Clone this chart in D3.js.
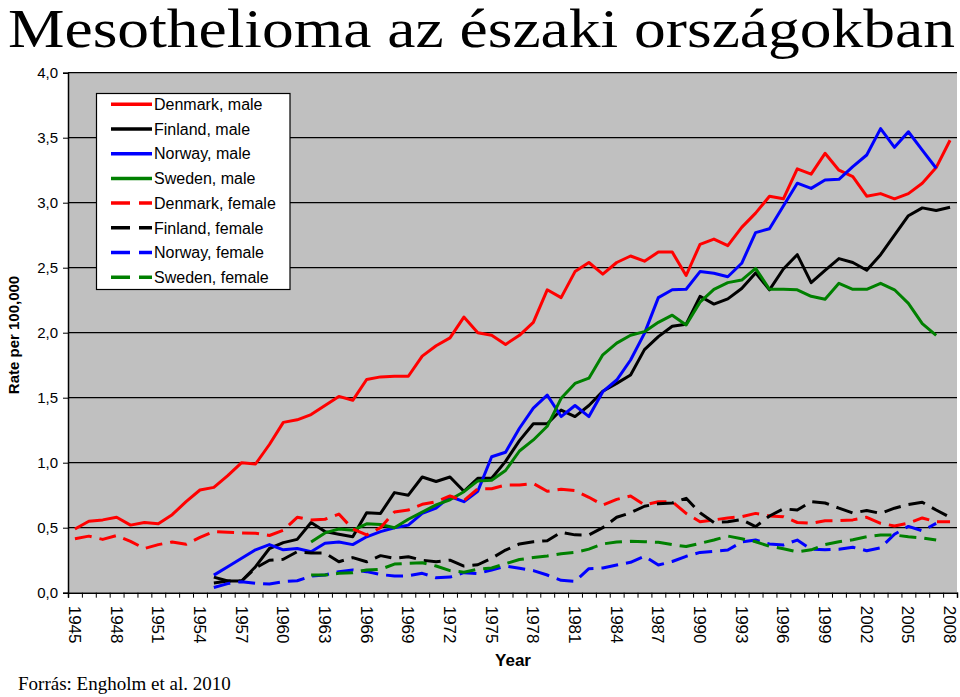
<!DOCTYPE html>
<html>
<head>
<meta charset="utf-8">
<script src="https://cdn.jsdelivr.net/npm/d3@7"></script>
<style>
  html, body { margin: 0; padding: 0; background: #fff; }
  svg { display: block; }
</style>
</head>
<body>
<svg id="chart" width="960" height="697"></svg>
<script>
// ---------- DATA ----------
const years = d3.range(1945, 2009);
const yTicks = [0, 0.5, 1, 1.5, 2, 2.5, 3, 3.5, 4];
const xTickLabels = d3.range(1945, 2009, 3);

const denmarkMale = [0.49,0.55,0.56,0.58,0.52,0.54,0.53,0.60,0.70,0.79,0.81,0.90,1.00,0.99,1.14,1.31,1.33,1.37,1.44,1.51,1.48,1.64,1.66,1.665,1.665,1.82,1.90,1.96,2.12,2.00,1.98,1.91,1.98,2.08,2.33,2.27,2.47,2.54,2.45,2.54,2.59,2.55,2.62,2.62,2.44,2.68,2.72,2.67,2.81,2.92,3.05,3.03,3.26,3.22,3.38,3.25,3.20,3.05,3.07,3.03,3.07,3.15,3.27,3.48];
const finlandMale = [null,null,null,null,null,null,null,null,null,null,0.12,0.09,0.09,0.20,0.34,0.385,0.41,0.54,0.47,0.45,0.43,0.615,0.61,0.77,0.75,0.89,0.855,0.89,0.78,0.88,0.88,1.01,1.17,1.30,1.30,1.405,1.355,1.44,1.55,1.61,1.675,1.87,1.97,2.05,2.065,2.28,2.22,2.26,2.34,2.46,2.33,2.49,2.60,2.385,2.48,2.57,2.54,2.48,2.60,2.75,2.90,2.96,2.94,2.965];
const norwayMale = [null,null,null,null,null,null,null,null,null,null,0.135,0.20,0.265,0.33,0.37,0.33,0.34,0.315,0.38,0.39,0.37,0.43,0.47,0.50,0.52,0.61,0.65,0.74,0.70,0.78,1.046,1.08,1.265,1.42,1.52,1.355,1.44,1.355,1.546,1.636,1.79,1.995,2.27,2.33,2.334,2.47,2.457,2.43,2.534,2.77,2.80,2.975,3.15,3.11,3.175,3.18,3.277,3.367,3.57,3.426,3.546,3.405,3.265,null];
const swedenMale = [null,null,null,null,null,null,null,null,null,null,null,null,null,null,null,null,null,0.39,0.46,0.49,0.48,0.53,0.525,0.50,0.565,0.62,0.675,0.715,0.777,0.86,0.865,0.94,1.09,1.175,1.28,1.495,1.61,1.65,1.83,1.92,1.98,2.008,2.08,2.135,2.06,2.235,2.334,2.385,2.405,2.495,2.334,2.334,2.33,2.28,2.257,2.38,2.334,2.334,2.38,2.33,2.226,2.07,1.98,null];
const denmarkFemale = [0.415,0.435,0.41,0.44,0.395,0.34,0.37,0.39,0.372,0.425,0.47,0.465,0.46,0.457,0.44,0.48,0.58,0.56,0.565,0.605,0.49,0.444,0.50,0.62,0.636,0.68,0.70,0.744,0.708,0.80,0.80,0.828,0.828,0.84,0.78,0.795,0.785,0.734,0.675,0.718,0.744,0.675,0.70,0.70,0.61,0.546,0.56,0.575,0.585,0.61,0.59,0.585,0.54,0.534,0.554,0.554,0.56,0.58,0.534,0.513,0.535,0.575,0.546,0.546];
const finlandFemale = [null,null,null,null,null,null,null,null,null,null,0.075,0.09,0.09,0.19,0.25,0.257,0.315,0.305,0.305,0.238,0.27,0.238,0.285,0.265,0.277,0.25,0.238,0.25,0.205,0.215,0.265,0.328,0.375,0.392,0.40,0.465,0.445,0.444,0.50,0.58,0.615,0.665,0.685,0.69,0.726,0.615,0.54,0.546,0.563,0.508,0.59,0.645,0.636,0.70,0.69,0.65,0.613,0.633,0.61,0.65,0.678,0.696,0.636,0.58];
const norwayFemale = [null,null,null,null,null,null,null,null,null,null,0.04,0.07,0.085,0.072,0.067,0.085,0.092,0.128,0.136,0.162,0.175,0.162,0.14,0.128,0.13,0.149,0.115,0.12,0.154,0.147,0.175,0.205,0.188,0.17,0.136,0.095,0.088,0.185,0.19,0.213,0.234,0.28,0.213,0.24,0.28,0.31,0.318,0.328,0.39,0.405,0.375,0.367,0.405,0.334,0.33,0.334,0.35,0.323,0.345,0.45,0.51,0.476,0.533,null];
const swedenFemale = [null,null,null,null,null,null,null,null,null,null,null,null,null,null,null,null,null,0.136,0.136,0.149,0.154,0.175,0.18,0.22,0.226,0.231,0.205,0.17,0.158,0.18,0.19,0.223,0.255,0.27,0.282,0.30,0.31,0.335,0.375,0.39,0.395,0.392,0.388,0.37,0.355,0.38,0.405,0.436,0.415,0.392,0.357,0.338,0.315,0.33,0.37,0.392,0.407,0.43,0.444,0.444,0.43,0.422,0.405,null];

const seriesNames = ["Denmark, male","Finland, male","Norway, male","Sweden, male","Denmark, female","Finland, female","Norway, female","Sweden, female"];
const seriesValues = [denmarkMale, finlandMale, norwayMale, swedenMale, denmarkFemale, finlandFemale, norwayFemale, swedenFemale];
const seriesColors = ["#ff0000","#000000","#0000ff","#008000","#ff0000","#000000","#0000ff","#008000"];
const seriesDashed = [false,false,false,false,true,true,true,true];

// ---------- LAYOUT ----------
const svg = d3.select("#chart");
const plot = { left: 68, right: 957, top: 72.7, bottom: 592.7 };
const sans = "'Liberation Sans', Arial, sans-serif";
const serif = "'Liberation Serif', 'Times New Roman', serif";

const xBand = d3.scaleBand().domain(years).range([plot.left, plot.right]).paddingInner(0).paddingOuter(0);
const x = d => xBand(d) + xBand.bandwidth() / 2;
const y = d3.scaleLinear().domain([0, 4]).range([plot.bottom, plot.top]);

// Plot background
svg.append("rect")
  .attr("x", plot.left).attr("y", plot.top)
  .attr("width", plot.right - plot.left).attr("height", plot.bottom - plot.top)
  .attr("fill", "#c0c0c0");

// Gridlines
svg.append("g").selectAll("line").data(yTicks.filter(d => d > 0)).join("line")
  .attr("x1", plot.left).attr("x2", plot.right)
  .attr("y1", d => y(d)).attr("y2", d => y(d))
  .attr("stroke", "#000").attr("stroke-width", 1.2);

// Y axis
const yAxis = d3.axisLeft(y).tickValues(yTicks).tickSize(5).tickPadding(5)
  .tickFormat(d => d3.format(".1f")(d).replace(".", ","));
const gy = svg.append("g").attr("transform", `translate(${plot.left},0)`).call(yAxis);
gy.select(".domain").attr("stroke", "#000").attr("stroke-width", 1.5);
gy.selectAll(".tick line").attr("stroke", "#000");
gy.selectAll("text").attr("font-family", sans).attr("font-size", 15).attr("fill", "#000");

// X axis: tick marks at category boundaries, labels every 3rd year
const xBoundary = d3.scaleLinear().domain([0, years.length]).range([plot.left, plot.right]);
const xAxisMarks = d3.axisBottom(xBoundary).tickValues(d3.range(0, years.length + 1)).tickSize(5).tickFormat("");
const gxm = svg.append("g").attr("transform", `translate(0,${plot.bottom})`).call(xAxisMarks);
gxm.select(".domain").attr("stroke", "#000").attr("stroke-width", 1.5);
gxm.selectAll(".tick line").attr("stroke", "#000");

const xAxisLabels = d3.axisBottom(xBand).tickValues(xTickLabels).tickSize(0).tickPadding(0);
const gxl = svg.append("g").attr("transform", `translate(0,${plot.bottom})`).call(xAxisLabels);
gxl.select(".domain").remove();
gxl.selectAll("text")
  .attr("font-family", sans).attr("font-size", 17).attr("fill", "#000")
  .attr("text-anchor", "start")
  .attr("transform", "translate(0,13) rotate(90)")
  .attr("x", 0).attr("y", 0).attr("dy", "0.35em");

// Lines
const line = d3.line()
  .defined(d => d.v !== null)
  .x(d => x(d.year))
  .y(d => y(d.v));

seriesValues.forEach((vals, i) => {
  const pts = years.map((yr, j) => ({ year: yr, v: vals[j] }));
  svg.append("path")
    .datum(pts)
    .attr("d", line)
    .attr("fill", "none")
    .attr("stroke", seriesColors[i])
    .attr("stroke-width", 3)
    .attr("stroke-linejoin", "round")
    .attr("stroke-dasharray", seriesDashed[i] ? "17,8" : null);
});

// Legend
const legend = svg.append("g");
legend.append("rect")
  .attr("x", 96.5).attr("y", 93.5).attr("width", 193.5).attr("height", 196)
  .attr("fill", "#fff").attr("stroke", "#000").attr("stroke-width", 1.2);
seriesNames.forEach((name, i) => {
  const cy = 104.3 + i * 24.7;
  legend.append("line")
    .attr("x1", 111).attr("x2", 152).attr("y1", cy).attr("y2", cy)
    .attr("stroke", seriesColors[i]).attr("stroke-width", 3.5)
    .attr("stroke-dasharray", seriesDashed[i] ? "19,9" : null);
  legend.append("text")
    .attr("x", 154).attr("y", cy).attr("dy", "0.36em")
    .attr("font-family", sans).attr("font-size", 16).attr("fill", "#000")
    .text(name);
});

// Axis titles
svg.append("text")
  .attr("transform", "translate(19,335) rotate(-90)")
  .attr("text-anchor", "middle")
  .attr("font-family", sans).attr("font-weight", "bold").attr("font-size", 15)
  .text("Rate per 100,000");

svg.append("text")
  .attr("x", 513).attr("y", 666)
  .attr("text-anchor", "middle")
  .attr("font-family", sans).attr("font-weight", "bold").attr("font-size", 17)
  .text("Year");

// Title
svg.append("text")
  .attr("x", 8).attr("y", 47)
  .attr("font-family", serif).attr("font-size", 54)
  .attr("textLength", 947).attr("lengthAdjust", "spacingAndGlyphs")
  .text("Mesothelioma az északi országokban");

// Source
svg.append("text")
  .attr("x", 18).attr("y", 690)
  .attr("font-family", serif).attr("font-size", 19)
  .text("Forrás: Engholm et al. 2010");
</script>
</body>
</html>
